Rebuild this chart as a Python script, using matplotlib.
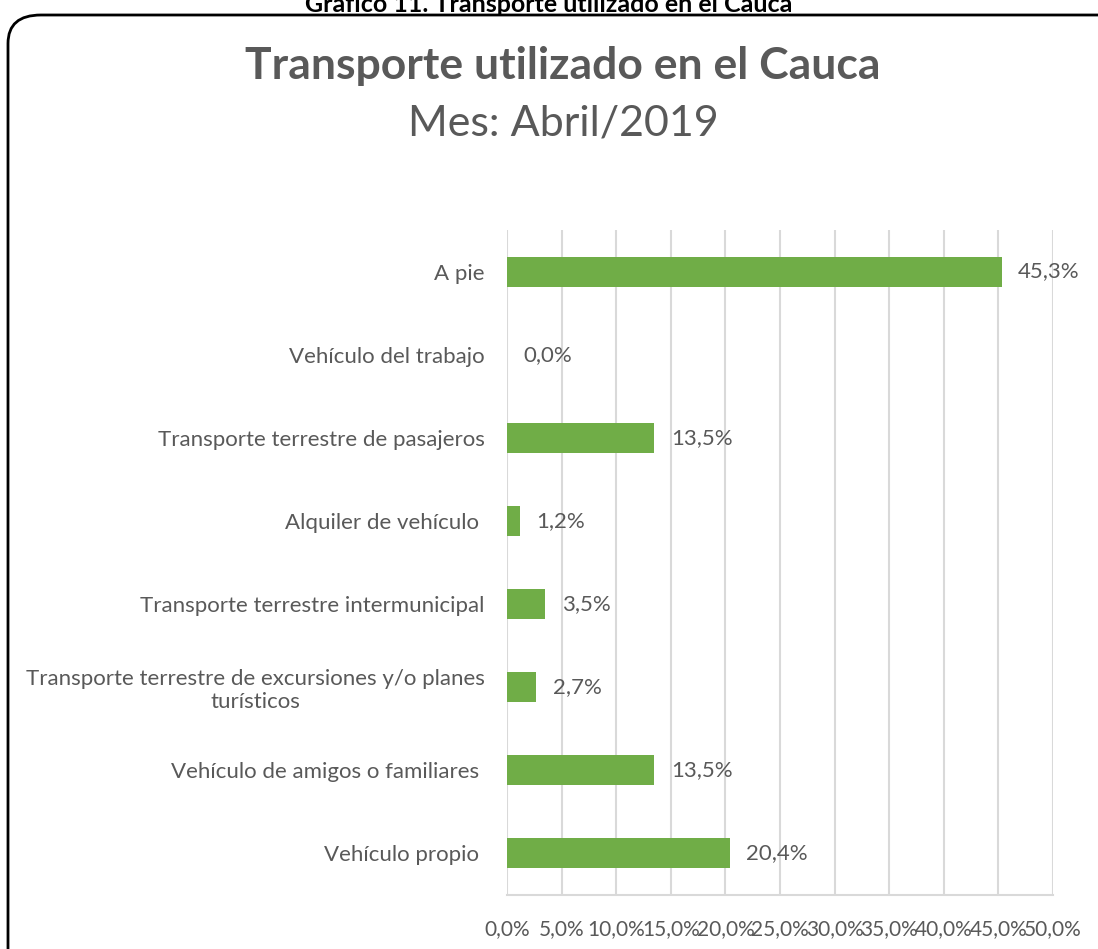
import matplotlib.pyplot as plt
from matplotlib.patches import FancyBboxPatch
from matplotlib.ticker import FuncFormatter

plt.rcParams['font.family'] = ['Lato', 'DejaVu Sans']

# datos (de arriba hacia abajo)
categorias = ['A pie', 'Vehículo del trabajo', 'Transporte terrestre de pasajeros',
              'Alquiler de vehículo ', 'Transporte terrestre intermunicipal',
              'Transporte terrestre de excursiones y/o planes\nturísticos',
              'Vehículo de amigos o familiares ', 'Vehículo propio ']
valores = [45.3, 0.0, 13.5, 1.2, 3.5, 2.7, 13.5, 20.4]
ticks_x = [0, 5, 10, 15, 20, 25, 30, 35, 40, 45, 50]

gris = '#595959'
verde = '#70ad47'

fig = plt.figure(figsize=(10.98, 9.49), dpi=100)
ax = fig.add_axes([507/1098, 1 - 895/949, (1053 - 507)/1098, (895 - 230)/949])

# marco redondeado
marco = FancyBboxPatch((8/1098, -0.05), 1.2, 1 - 15/949 + 0.05,
                       boxstyle='round,pad=0,rounding_size=0.03',
                       transform=fig.transFigure, fill=False, lw=2, ec='black')
fig.patches.append(marco)

# titulo de arriba (cortado en el original)
fig.text(0.5, 1 - 4/949, 'Gráfico 11. Transporte utilizado en el Cauca',
         ha='center', va='center', fontsize=18, fontweight='bold', color='black')
fig.text(563/1098, 1 - 66/949, 'Transporte utilizado en el Cauca', ha='center', va='center',
         fontsize=32, fontweight='bold', color=gris)
fig.text(563/1098, 1 - 124/949, 'Mes: Abril/2019', ha='center', va='center',
         fontsize=31, color=gris)

y = list(range(len(categorias)))
ax.barh(y, valores, height=0.36, color=verde, zorder=3)
for yi, v in zip(y, valores):
    ax.text(v + 1.5, yi, f'{v:.1f}%'.replace('.', ','), va='center', ha='left',
            fontsize=16, color=gris, zorder=4)

ax.set_ylim(len(categorias) - 0.5, -0.5)
ax.set_xlim(0, 50)
ax.set_yticks(y)
ax.set_yticklabels(categorias, fontsize=16, color=gris, multialignment='center')
ax.set_xticks(ticks_x)
ax.xaxis.set_major_formatter(FuncFormatter(lambda v, p: f'{v:.1f}%'.replace('.', ',')))
ax.tick_params(axis='x', labelsize=15, labelcolor=gris, length=0, pad=17)
ax.tick_params(axis='y', length=0, pad=16)

ax.grid(axis='x', color='#d9d9d9', lw=1.5, zorder=0)
for s in ['top', 'right', 'left']:
    ax.spines[s].set_visible(False)
ax.spines['bottom'].set_color('#d9d9d9')
ax.spines['bottom'].set_linewidth(1.5)

plt.savefig('out.png', dpi=100)
